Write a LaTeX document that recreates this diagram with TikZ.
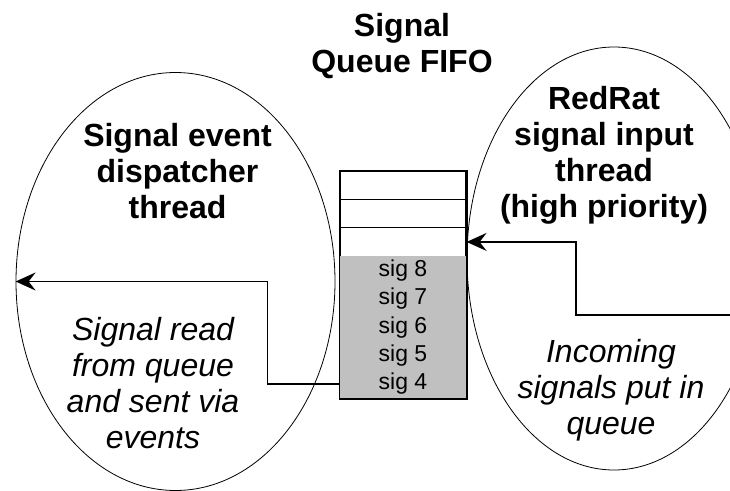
\documentclass[tikz,border=0pt]{standalone}
\usepackage{fontspec}
\setmainfont{Liberation Sans}
\usetikzlibrary{shapes.geometric,arrows.meta}
\definecolor{siggray}{HTML}{C0C0C0}

\begin{document}
\begin{tikzpicture}[x=1pt,y=-1pt,
    thread/.style={ellipse, draw=black, line width=0.8pt, inner sep=0pt},
    head/.style={anchor=north, inner sep=0pt, align=center, font=\fontsize{32}{36}\selectfont\bfseries},
    note/.style={anchor=north, inner sep=0pt, align=center, font=\fontsize{32}{36}\selectfont\itshape},
    cell/.style={minimum width=126pt, minimum height=28.375pt, inner sep=0pt, line width=1.2pt, font=\fontsize{23}{23}\selectfont},
    flow/.style={line width=1.8pt, -{Stealth[length=20pt, width=18pt, inset=7pt]}}]

\useasboundingbox (0,0) rectangle (730,490);
\clip (0,0) rectangle (730,490);

    \node[thread, minimum width=319pt, minimum height=418pt] (disp) at (175.5,281.5) {};
    \node[thread, minimum width=294pt, minimum height=423pt] (input) at (614,258.5) {};

    % empty slots, then the queued signals
    \foreach \i in {1,2,3}{
    \node[cell, draw = black] (c\i) at (403,{171+28.375*\i-14.19}) {};
}
    \foreach \i/\s in {4/8,5/7,6/6,7/5,8/4}{
    \node[cell, fill = siggray] (c\i) at (403,{171+28.375*\i-14.19}) {sig \s};
}
    \draw[line width=1.8pt] (c1.north west) rectangle (c8.south east);

    \node[head] (qname) at (402,13.5) {Signal\\Queue FIFO};
    \node[head] (dname) at (177.5,123.5) {Signal event\\dispatcher\\thread};
    \node[head] (iname) at (604,86.5) {RedRat\\signal input\\thread\\(high priority)};
    \node[note] (dtext) at (153,317.5) {Signal read\\from queue\\and sent via\\events};
    \node[note] (itext) at (611,339) {Incoming\\signals put in\\queue};

\coordinate (feed) at (730,315);
\draw[flow] (feed) -- ++(-154,0) |- (c3.east);
\draw[flow] (c8.west) -- ++(-72,0) |- (disp.west);

\end{tikzpicture}
\end{document}
